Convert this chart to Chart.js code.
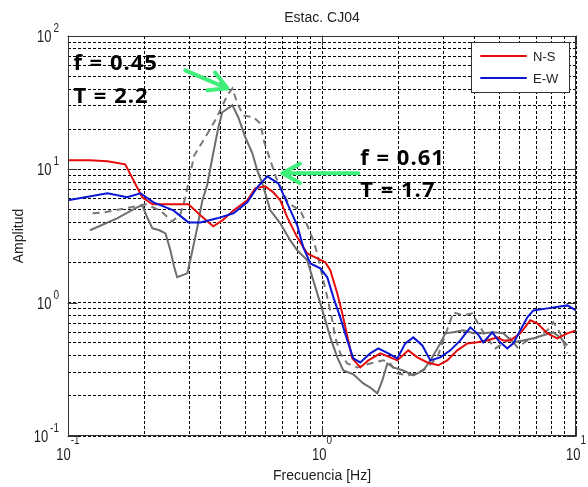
<!DOCTYPE html>
<html>
<head>
<meta charset="utf-8">
<script src="https://cdn.jsdelivr.net/npm/chart.js@4.4.1/dist/chart.umd.min.js"></script>
<style>
  html, body { margin: 0; padding: 0; background: #fff; }
</style>
</head>
<body>
<canvas id="chart" width="588" height="487"></canvas>
<script>
// Estac. CJ04 - H/V spectral ratio
const nsFreq = [0.1, 0.122, 0.143, 0.168, 0.196, 0.215, 0.298, 0.332, 0.373, 0.405, 0.448, 0.508, 0.546, 0.598, 0.643, 0.685, 0.730, 0.799, 0.875, 0.958, 1.03, 1.078, 1.149, 1.202, 1.269, 1.316, 1.415, 1.522, 1.697, 1.857, 1.979, 2.187, 2.372, 2.598, 2.870, 3.114, 3.410, 3.733, 4.087, 4.475, 4.900, 5.174, 5.513, 6.036, 6.609, 7.042, 7.709, 8.440, 9.243, 10]
const nsAmp = [11.7, 11.7, 11.5, 10.9, 6.17, 5.46, 5.46, 4.52, 3.74, 4.14, 4.92, 5.85, 7.20, 7.46, 6.72, 5.85, 4.36, 3.09, 2.34, 2.15, 2.01, 1.75, 1.17, 0.831, 0.521, 0.382, 0.327, 0.369, 0.417, 0.389, 0.369, 0.439, 0.389, 0.356, 0.339, 0.369, 0.439, 0.495, 0.504, 0.521, 0.549, 0.521, 0.521, 0.589, 0.737, 0.699, 0.589, 0.540, 0.589, 0.620]

const ewFreq = [0.1, 0.143, 0.171, 0.193, 0.217, 0.260, 0.298, 0.332, 0.387, 0.448, 0.508, 0.556, 0.609, 0.673, 0.730, 0.799, 0.844, 0.900, 0.985, 1.049, 1.108, 1.180, 1.258, 1.328, 1.415, 1.549, 1.666, 1.824, 1.979, 2.128, 2.288, 2.483, 2.670, 2.922, 3.200, 3.503, 3.836, 4.087, 4.315, 4.683, 4.945, 5.365, 5.665, 6.036, 6.432, 6.791, 7.709, 9.243, 10]
const ewAmp = [5.85, 6.61, 6.17, 6.61, 5.65, 4.92, 4.00, 4.00, 4.29, 4.68, 5.65, 7.33, 8.86, 7.85, 5.56, 3.80, 2.60, 1.97, 1.81, 1.55, 1.10, 0.776, 0.521, 0.382, 0.356, 0.417, 0.454, 0.417, 0.382, 0.495, 0.549, 0.478, 0.369, 0.389, 0.439, 0.521, 0.653, 0.589, 0.504, 0.599, 0.521, 0.454, 0.495, 0.620, 0.776, 0.875, 0.906, 0.954, 0.875]

// grey curves (no legend entry)
const graySolidFreq = [0.122, 0.156, 0.187, 0.196, 0.205, 0.215, 0.229, 0.242, 0.253, 0.262, 0.269, 0.295, 0.309, 0.323, 0.338, 0.353, 0.373, 0.391, 0.405, 0.444, 0.468, 0.499, 0.532, 0.556, 0.582, 0.626, 0.685, 0.750, 0.799, 0.875, 0.924, 0.985, 1.078, 1.149, 1.213, 1.328, 1.454, 1.549, 1.651, 1.728, 1.808, 1.908, 2.090, 2.288, 2.505, 2.670, 2.922, 3.058, 3.288, 3.600, 3.942, 4.315, 4.725, 5.174, 5.665, 6.202, 6.791, 7.435, 8.139, 8.673, 9.243]
const graySolidAmp = [3.49, 4.29, 5.19, 5.37, 4.36, 3.61, 3.49, 3.31, 2.47, 1.84, 1.55, 1.66, 2.47, 3.67, 5.85, 7.59, 13.2, 20.7, 26.8, 30.2, 24.6, 17.4, 13.2, 9.83, 7.85, 4.92, 3.94, 2.93, 2.47, 2.08, 1.47, 0.988, 0.549, 0.389, 0.310, 0.290, 0.248, 0.231, 0.209, 0.261, 0.350, 0.327, 0.310, 0.285, 0.310, 0.369, 0.495, 0.589, 0.599, 0.620, 0.589, 0.589, 0.599, 0.589, 0.504, 0.521, 0.540, 0.569, 0.599, 0.549, 0.478]

const grayDashFreq = [0.125, 0.139, 0.168, 0.2015, 0.231, 0.257, 0.277, 0.290, 0.303, 0.314, 0.347, 0.380, 0.424, 0.444, 0.464, 0.490, 0.537, 0.572, 0.593, 0.626, 0.661, 0.698, 0.737, 0.821, 0.875, 0.924, 0.958, 0.985, 1.012, 1.049, 1.098, 1.128, 1.180, 1.258, 1.377, 1.549, 1.743, 1.857, 1.979, 2.167, 2.372, 2.598, 2.844, 3.003, 3.288, 3.600, 3.906, 4.201, 4.475, 4.812, 5.174, 5.513, 5.875, 6.432, 7.042, 7.709, 8.139, 8.673, 9.243]
const grayDashAmp = [4.68, 4.76, 5.10, 5.46, 4.92, 4.07, 4.60, 6.17, 9.33, 12.7, 17.4, 23.3, 35.9, 40.5, 31.3, 25.4, 24.6, 22.1, 15.9, 11.7, 8.56, 6.96, 5.56, 4.92, 3.80, 2.93, 2.34, 1.84, 1.47, 1.10, 0.737, 0.549, 0.417, 0.350, 0.327, 0.350, 0.369, 0.350, 0.295, 0.285, 0.295, 0.327, 0.389, 0.521, 0.846, 0.803, 0.831, 0.653, 0.540, 0.454, 0.495, 0.540, 0.462, 0.521, 0.549, 0.620, 0.712, 0.589, 0.417]

// grid lines and decade labels
const xGrid = [0.1, 0.2, 0.3, 0.4, 0.5, 0.6, 0.7, 0.8, 0.9, 1, 2, 3, 4, 5, 6, 7, 8, 9, 10]
const yGrid = [0.1, 0.2, 0.3, 0.4, 0.5, 0.6, 0.7, 0.8, 0.9, 1, 2, 3, 4, 5, 6, 7, 8, 9, 10, 20, 30, 40, 50, 60, 70, 80, 90, 100]
const xDecades = [0.1, 1, 10]
const xExponents = ['-1', '0', '1']
const yDecades = [0.1, 1, 10, 100]
const yExponents = ['-1', '0', '1', '2']

// peak notes, placed in data units
const peakNotes = [
    { f: 0.105, amps: [55.3, 31.3], lines: ['f = 0.45', 'T = 2.2'] },
    { f: 1.415, amps: [10.7, 6.17], lines: ['f = 0.61', 'T = 1.7'] }
]
const peakArrows = [
    { from: [0.2896, 55.3], to: [0.424, 40.5] },
    { from: [1.39, 9.33], to: [0.698, 9.33] }
]

const toPoints = (fs, as) => fs.map((f, i) => ({ x: f, y: as[i] }))

const FONT = '"Liberation Sans", Arial, sans-serif'
const TEXT = '#222'

const matlabFrame = {
    id: 'matlabFrame',
    afterDatasetsDraw(chart) {
        const { ctx, chartArea: a, scales: { x, y } } = chart
        ctx.save()

        // arrows
        ctx.strokeStyle = '#3ef07a'
        ctx.lineWidth = 4
        ctx.lineCap = 'round'
        for (const ar of peakArrows) {
            const x0 = x.getPixelForValue(ar.from[0]), y0 = y.getPixelForValue(ar.from[1])
            const x1 = x.getPixelForValue(ar.to[0]), y1 = y.getPixelForValue(ar.to[1])
            const ang = Math.atan2(y1 - y0, x1 - x0)
            ctx.beginPath()
            ctx.moveTo(x0, y0); ctx.lineTo(x1, y1)
            for (const s of [-1, 1]) {
                ctx.moveTo(x1, y1)
                ctx.lineTo(x1 - 20 * Math.cos(ang + s * 0.5), y1 - 20 * Math.sin(ang + s * 0.5))
            }
            ctx.stroke()
        }

        // notes
        ctx.fillStyle = '#000'
        ctx.font = 'bold 22px "Open Sans", sans-serif'
        ctx.letterSpacing = '1px'
        ctx.textAlign = 'left'
        ctx.textBaseline = 'alphabetic'
        for (const n of peakNotes) {
            n.lines.forEach((t, i) => ctx.fillText(t, x.getPixelForValue(n.f), y.getPixelForValue(n.amps[i])))
        }
        ctx.letterSpacing = '0px'

        // box
        ctx.strokeStyle = '#333'
        ctx.lineWidth = 1
        ctx.setLineDash([])
        ctx.strokeRect(a.left + 0.5, a.top + 0.5, a.right - a.left - 1, a.bottom - a.top - 1)

        // inward ticks at decades
        ctx.beginPath()
        for (const v of xDecades) {
            const px = Math.round(x.getPixelForValue(v)) + 0.5
            ctx.moveTo(px, a.bottom); ctx.lineTo(px, a.bottom - 9)
            ctx.moveTo(px, a.top); ctx.lineTo(px, a.top + 9)
        }
        for (const v of yDecades) {
            const py = Math.round(y.getPixelForValue(v)) + 0.5
            ctx.moveTo(a.left, py); ctx.lineTo(a.left + 9, py)
            ctx.moveTo(a.right, py); ctx.lineTo(a.right - 9, py)
        }
        ctx.stroke()

        // legend box
        const labelled = chart.data.datasets.filter(d => d.label)
        const bw = 98, bh = 50
        const bx = a.right - 7 - bw, by = a.top + 6
        ctx.fillStyle = '#fff'
        ctx.fillRect(bx, by, bw, bh)
        ctx.strokeStyle = '#333'
        ctx.strokeRect(bx + 0.5, by + 0.5, bw, bh)
        ctx.font = '13px ' + FONT
        ctx.textBaseline = 'middle'
        labelled.forEach((d, i) => {
            const ly = by + 14 + i * 22
            ctx.strokeStyle = d.borderColor
            ctx.lineWidth = 2
            ctx.beginPath()
            ctx.moveTo(bx + 10, ly); ctx.lineTo(bx + 55, ly)
            ctx.stroke()
            ctx.fillStyle = TEXT
            ctx.fillText(d.label, bx + 62, ly + 1)
        })

        // decade tick labels, 10 with a raised exponent (slightly tall, like the original)
        const stretched = (txt, px, py, font) => {
            ctx.save()
            ctx.translate(px, py)
            ctx.scale(1, 1.2)
            ctx.font = font
            ctx.fillText(txt, 0, 0)
            ctx.restore()
        }
        const pow = (exp, cx, base, raise, alignRight) => {
            ctx.font = '13px ' + FONT
            const wb = ctx.measureText('10').width
            ctx.font = '10px ' + FONT
            const we = ctx.measureText(exp).width
            const left = alignRight ? cx - wb - we - 2 : cx - (wb + we) / 2
            stretched('10', left, base, '13px ' + FONT)
            stretched(exp, left + wb + (alignRight ? 2 : 0), base - raise, '10px ' + FONT)
        }
        ctx.fillStyle = TEXT
        ctx.textAlign = 'left'
        ctx.textBaseline = 'alphabetic'
        yDecades.forEach((v, i) => pow(yExponents[i], a.left - 9, y.getPixelForValue(v) + 6, 10, true))
        xDecades.forEach((v, i) => pow(xExponents[i], x.getPixelForValue(v), a.bottom + 24, 16, false))

        // titles
        ctx.font = '14px ' + FONT
        ctx.textAlign = 'center'
        ctx.fillText('Estac. CJ04', (a.left + a.right) / 2, 22)
        ctx.fillText('Frecuencia [Hz]', (a.left + a.right) / 2, a.bottom + 44)
        ctx.translate(23, (a.top + a.bottom) / 2)
        ctx.rotate(-Math.PI / 2)
        ctx.fillText('Amplitud', 0, 0)
        ctx.restore()
    }
}

new Chart(document.getElementById('chart'), {
    type: 'line',
    data: {
        datasets: [
            { label: 'N-S', data: toPoints(nsFreq, nsAmp), borderColor: '#e60d0d', borderWidth: 2, order: 1 },
            { label: 'E-W', data: toPoints(ewFreq, ewAmp), borderColor: '#0a16d4', borderWidth: 2, order: 0 },
            { data: toPoints(graySolidFreq, graySolidAmp), borderColor: '#6e6e6e', borderWidth: 2, order: 2 },
            { data: toPoints(grayDashFreq, grayDashAmp), borderColor: '#7a7a7a', borderWidth: 2, borderDash: [7, 5], order: 3 }
        ]
    },
    options: {
        responsive: false,
        animation: false,
        layout: { padding: { left: 68, right: 12, top: 36, bottom: 51 } },
        elements: { point: { radius: 0 }, line: { tension: 0, fill: false } },
        plugins: { legend: { display: false }, tooltip: { enabled: false } },
        scales: {
            x: {
                type: 'logarithmic',
                min: 0.1,
                max: 10,
                afterBuildTicks: s => { s.ticks = xGrid.map(v => ({ value: v })) },
                ticks: { display: false },
                grid: { color: '#000', lineWidth: 1, drawTicks: false },
                border: { display: false, dash: [3, 2] }
            },
            y: {
                type: 'logarithmic',
                min: 0.1,
                max: 100,
                afterBuildTicks: s => { s.ticks = yGrid.map(v => ({ value: v })) },
                ticks: { display: false },
                grid: { color: '#000', lineWidth: 1, drawTicks: false },
                border: { display: false, dash: [3, 2] }
            }
        }
    },
    plugins: [matlabFrame]
})
</script>
</body>
</html>
